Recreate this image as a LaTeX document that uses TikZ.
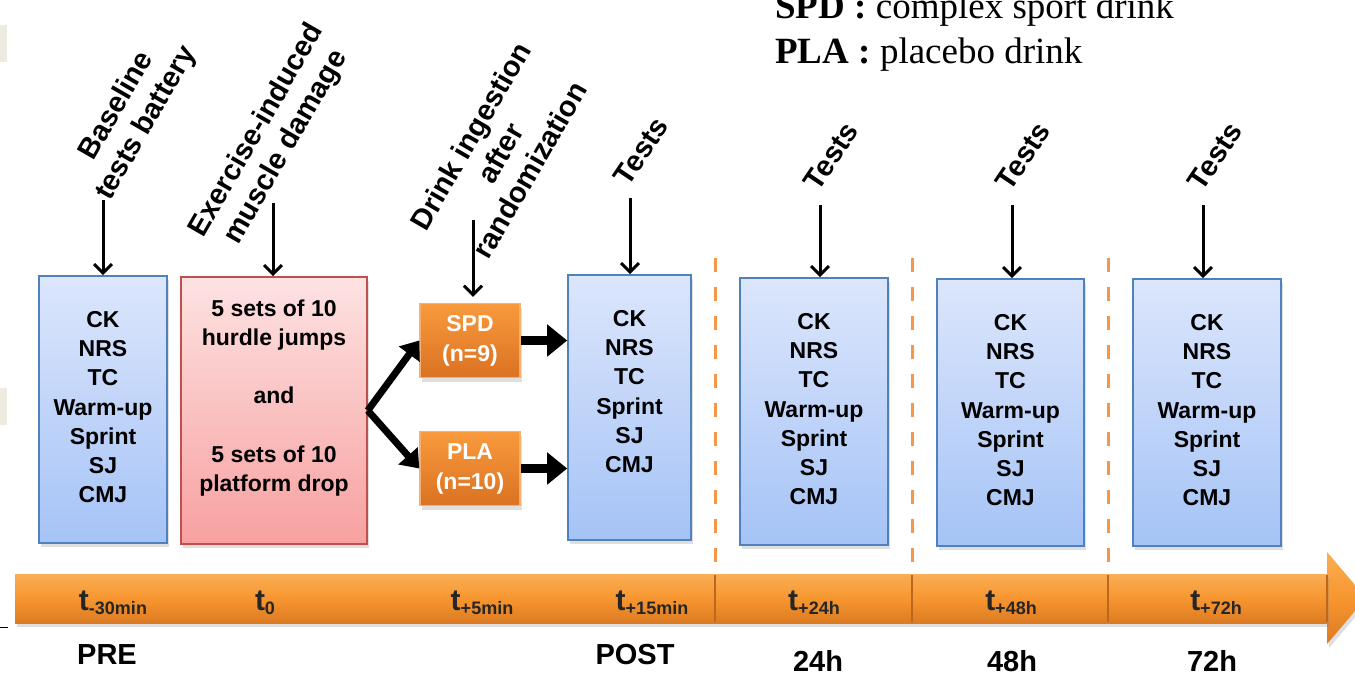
\documentclass[tikz,border=0pt]{standalone}
\usepackage{fontspec}
\setmainfont{Liberation Sans}
\newfontfamily\legendfont{Liberation Serif}
\usetikzlibrary{arrows.meta,shadows}

\definecolor{boxBlueTop}{HTML}{DCE6FC}
\definecolor{boxBlueBottom}{HTML}{A5C3F6}
\definecolor{boxBlueLine}{HTML}{4F81BD}
\definecolor{boxRedTop}{HTML}{FDE2E2}
\definecolor{boxRedBottom}{HTML}{F7A1A0}
\definecolor{boxRedLine}{HTML}{C0504D}
\definecolor{drinkTop}{HTML}{F99A3C}
\definecolor{drinkBottom}{HTML}{D97222}
\definecolor{drinkLine}{HTML}{F6B072}
\definecolor{timeLight}{HTML}{FAAE55}
\definecolor{timeOrange}{HTML}{F7962F}
\definecolor{timeDark}{HTML}{DC7A22}
\definecolor{dashOrange}{HTML}{F79646}
\definecolor{pageBeige}{HTML}{EDEAE0}

\newcommand{\fullTests}{CK\\NRS\\TC\\Warm-up\\Sprint\\SJ\\CMJ}
\newcommand{\postTests}{CK\\NRS\\TC\\Sprint\\SJ\\CMJ}
\newcommand{\tsub}[1]{t\raisebox{-4pt}{\fontsize{18}{18}\selectfont #1}}

\begin{document}
\begin{tikzpicture}
[x=1pt,y=-1pt,
  boxShadow/.style={drop shadow={shadow xshift=2pt,shadow yshift=-4pt,opacity=0.25}},
  testBox/.style={draw=boxBlueLine,line width=1.6pt,top color=boxBlueTop,
    bottom color=boxBlueBottom,inner sep=0pt,boxShadow},
  damageBox/.style={draw=boxRedLine,line width=1.6pt,top color=boxRedTop,
    bottom color=boxRedBottom,inner sep=0pt,minimum width=186pt,
    minimum height=267pt,boxShadow},
  drinkBox/.style={draw=drinkLine,line width=1.4pt,top color=drinkTop,
    bottom color=drinkBottom,text=white,align=center,inner sep=0pt,
    font=\fontsize{23}{30}\selectfont\bfseries,minimum width=100pt,
    minimum height=74pt,boxShadow},
  boxText/.style={font=\fontsize{23}{29.2}\selectfont\bfseries,align=center,
    inner sep=0pt,anchor=north},
  stepLabel/.style={font=\fontsize{29}{34}\selectfont\bfseries,align=center,
    inner sep=0pt},
  timeLabel/.style={font=\fontsize{30}{30}\selectfont\bfseries,text=black!85,
    inner sep=0pt},
  dayLabel/.style={font=\fontsize{29}{29}\selectfont\bfseries,inner sep=0pt},
  legendText/.style={font=\legendfont\fontsize{37}{45}\selectfont,inner sep=0pt,
    anchor=base west},
  downArrow/.style={-{Straight Barb[length=9pt,width=18pt]},line width=3pt},
  forkArrow/.style={-{Triangle[length=17pt,width=25pt]},line width=7pt},
  drinkArrow/.style={-{Triangle[length=20pt,width=31pt]},line width=9pt},
  dayLine/.style={dashOrange,line width=3pt,dash pattern=on 14pt off 15pt}]
\useasboundingbox (0,0) rectangle (1355,675);
\fill[white] (0,0) rectangle (1355,675);
\fill[pageBeige] (0,25) rectangle (7,62);
\fill[pageBeige] (0,388) rectangle (7,425);
\draw[line width=1pt] (0,627) -- (8,627);

%% legend
\node[legendText] (legendSpd) at (775,18) {\textbf{SPD :} complex sport drink};
\node[legendText] (legendPla) at (775,63) {\textbf{PLA :} placebo drink};

%% day separators
\foreach \x in {715,912,1108}
{
  \draw[dayLine] (\x,258) -- (\x,572);
}

%% time axis
\path[top color=timeLight,bottom color=timeDark,middle color=timeOrange,boxShadow]
  (1327,552) -- (1366,598) -- (1327,644) -- cycle;
\path[top color=timeLight,bottom color=timeDark,middle color=timeOrange,boxShadow]
  (15,574) rectangle (1327,623);
\foreach \x in {715,912,1108,1327}
{
  \draw[timeDark!85!black,line width=1.2pt] (\x,575) -- (\x,622);
}
\foreach \nodename/\x/\sub in {
  tPre/113/-30min, tZero/265/0, tFive/482/+5min, tPost/652/+15min,
  tDay/814/+24h, tTwo/1011/+48h, tThree/1216/+72h}
{
  \node[timeLabel] (\nodename) at (\x,603) {\tsub{\sub}};
}
\foreach \nodename/\x/\y/\txt in {
  dPre/107/655/PRE, dPost/635/655/POST, d24/818/661/24h, d48/1012/661/48h,
  d72/1212/661/72h}
{
  \node[dayLabel] (\nodename) at (\x,\y) {\txt};
}

%% boxes
\foreach \nodename/\x/\y/\w/\h in {
  boxPre/103/409.5/128/267, boxPost/629.5/407.5/123/265,
  box24/814/411.5/148/267, box48/1010.5/412.5/147/267,
  box72/1207/412.5/148/267}
{
  \node[testBox,minimum width=\w pt,minimum height=\h pt] (\nodename) at (\x,\y) {};
}
\foreach \nodename/\items in {
  boxPre/\fullTests, boxPost/\postTests, box24/\fullTests, box48/\fullTests,
  box72/\fullTests}
{
  \node[boxText] (\nodename-list) at ([yshift=-36pt]\nodename.north) {\items};
}
\node[damageBox] (damage) at (274,410.5) {};
\node[boxText] (damageList) at ([yshift=-23pt]damage.north)
  {5 sets of 10\\hurdle jumps\\[29.5pt]and\\[29.5pt]5 sets of 10\\platform drop};
\node[drinkBox] (spd) at (470,340.5) {SPD\\(n=9)};
\node[drinkBox] (pla) at (470,468.5) {PLA\\(n=10)};

%% step labels and arrows
\foreach \nodename/\x/\y/\angle/\txt in {
  lblBase/132/115/60/{Baseline\\tests battery},
  lblDamage/272/139/60/{Exercise-induced\\muscle damage},
  lblDrink/500/153/60/{Drink ingestion\\after\\randomization},
  lblPost/641/151/56/Tests, lbl24/831/156/56/Tests,
  lbl48/1023/156/56/Tests, lbl72/1215/156/56/Tests}
{
  \node[stepLabel,rotate=\angle] (\nodename) at (\x,\y) {\txt};
}
\foreach \nodename/\x/\y in {
  startPre/103/200, startDamage/273/203, startDrink/473/220,
  startPost/630/198, start24/820/205, start48/1012/205, start72/1203/205}
{
  \coordinate (\nodename) at (\x,\y);
}
\draw[downArrow] (startPre) -- (startPre |- boxPre.north);
\draw[downArrow] (startDamage) -- (startDamage |- damage.north);
\draw[downArrow] (startDrink) -- ([yshift=6pt]startDrink |- spd.north);
\draw[downArrow] (startPost) -- (startPost |- boxPost.north);
\draw[downArrow] (start24) -- (start24 |- box24.north);
\draw[downArrow] (start48) -- (start48 |- box48.north);
\draw[downArrow] (start72) -- (start72 |- box72.north);

%% drink allocation
\draw[forkArrow] (damage.east) -- (spd.west);
\draw[forkArrow] (damage.east) -- (pla.west);
\draw[drinkArrow] (spd.east) -- (spd.east -| boxPost.west);
\draw[drinkArrow] (pla.east) -- (pla.east -| boxPost.west);
\end{tikzpicture}
\end{document}
